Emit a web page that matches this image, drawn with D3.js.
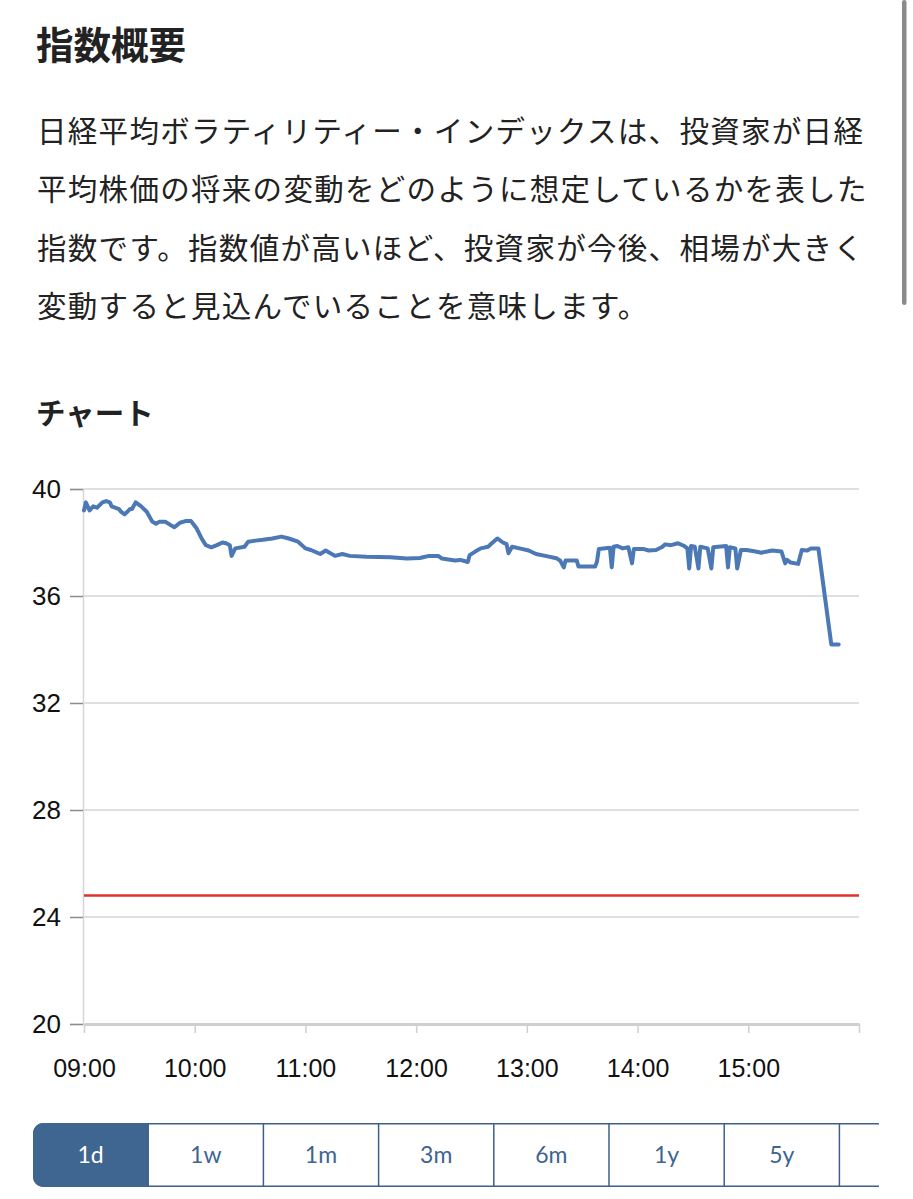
<!DOCTYPE html>
<html>
<head>
<meta charset="utf-8">
<script src="https://cdn.jsdelivr.net/npm/d3@7"></script>
<style>
  body { margin: 0; background: #fff; }
  svg { display: block; }
</style>
</head>
<body>
<svg class="page"></svg>
<script>

var title = '指数概要'
var paragraph = [
  '日経平均ボラティリティー・インデックスは、投資家が日経',
  '平均株価の将来の変動をどのように想定しているかを表した',
  '指数です。指数値が高いほど、投資家が今後、相場が大きく',
  '変動すると見込んでいることを意味します。'
]
var chartTitle = 'チャート'

var times = ['09:00','09:01','09:03','09:05','09:07','09:10','09:12','09:14','09:15','09:19',
  '09:20','09:22','09:25','09:26','09:28','09:31','09:34','09:37','09:39','09:41',
  '09:44','09:47','09:49','09:52','09:55','09:58','10:01','10:04','10:06','10:09',
  '10:12','10:15','10:17','10:19','10:20','10:22','10:27','10:29','10:33','10:37',
  '10:42','10:47','10:51','10:56','11:00','11:03','11:08','11:11','11:16','11:20',
  '11:24','11:33','11:46','11:55','12:02','12:07','12:12','12:14','12:21','12:24',
  '12:28','12:29','12:32','12:35','12:39','12:41','12:44','12:47','12:49','12:50',
  '12:52','12:56','13:01','13:05','13:10','13:16','13:18','13:20','13:21','13:27',
  '13:28','13:37','13:38','13:39','13:45','13:46','13:47','13:49','13:52','13:55',
  '13:57','13:58','14:03','14:06','14:10','14:13','14:15','14:18','14:22','14:25',
  '14:27','14:28','14:29','14:31','14:33','14:34','14:38','14:40','14:41','14:48',
  '14:49','14:50','14:53','14:54','14:56','14:59','15:04','15:07','15:13','15:18',
  '15:20','15:21','15:23','15:27','15:29','15:32','15:34','15:38','15:45','15:49']

var values = [39.2,39.5,39.2,39.35,39.3,39.5,39.55,39.5,39.35,39.25,
  39.15,39.05,39.25,39.25,39.5,39.35,39.15,38.78,38.7,38.78,
  38.78,38.65,38.57,38.74,38.8,38.8,38.53,38.12,37.9,37.82,
  37.9,38.0,37.97,37.9,37.5,37.78,37.84,38.03,38.07,38.1,
  38.15,38.22,38.15,38.03,37.78,37.72,37.57,37.7,37.5,37.57,
  37.5,37.47,37.45,37.4,37.42,37.5,37.5,37.4,37.33,37.35,
  37.27,37.53,37.66,37.78,37.84,37.97,38.15,38.0,37.94,37.6,
  37.84,37.78,37.7,37.57,37.5,37.41,37.33,37.07,37.33,37.33,
  37.1,37.1,37.28,37.76,37.8,37.07,37.84,37.87,37.78,37.82,
  37.22,37.76,37.76,37.7,37.72,37.82,37.93,37.9,37.97,37.88,
  37.78,37.03,37.87,37.84,37.03,37.84,37.78,37.03,37.82,37.87,
  37.07,37.82,37.78,37.03,37.72,37.72,37.66,37.62,37.7,37.66,
  37.22,37.35,37.25,37.2,37.72,37.7,37.78,37.78,34.19,34.19]

// red reference level
var refTimes = ['09:00', '16:00']
var refValues = [24.8, 24.8]

var yTicks = [20, 24, 28, 32, 36, 40]
var xTicks = ['09:00','10:00','11:00','12:00','13:00','14:00','15:00','16:00']
var xTickLabels = ['09:00','10:00','11:00','12:00','13:00','14:00','15:00','']
var ranges = ['1d','1w','1m','3m','6m','1y','5y','10y']

var W = 913, H = 1199
var jp = '"Noto Sans CJK JP", "Noto Sans", sans-serif'
var parseTime = d3.timeParse('%H:%M')

var svg = d3.select('.page')
    .attr('width', W)
    .attr('height', H)

// header text
svg.append('text')
    .attr('x', 36)
    .attr('y', 59)
    .style('font-family', jp)
    .style('font-size', '37.5px')
    .style('font-weight', 700)
    .style('fill', '#222')
    .text(title)

svg.selectAll('.para')
    .data(paragraph)
  .enter().append('text')
    .attr('class', 'para')
    .attr('x', 37)
    .attr('y', function(d, i) { return 142 + i * 58.3 })
    .style('font-family', jp)
    .style('font-size', '29.5px')
    .style('letter-spacing', '1.3px')
    .style('fill', '#222')
    .text(function(d) { return d })

svg.append('text')
    .attr('x', 36)
    .attr('y', 424)
    .style('font-family', jp)
    .style('font-size', '29.5px')
    .style('font-weight', 700)
    .style('fill', '#222')
    .text(chartTitle)

// scrollbar
svg.append('rect')
    .attr('x', 902)
    .attr('y', 0)
    .attr('width', 4.5)
    .attr('height', 305)
    .attr('rx', 2.2)
    .style('fill', '#8a8a8a')

// chart
var x = d3.scaleTime()
    .domain([parseTime('09:00'), parseTime('16:00')])
    .range([84, 859])

var y = d3.scaleLinear()
    .domain([20, 40])
    .range([1024, 489])

var chart = svg.append('g')

chart.append('g')
    .attr('class', 'grid')
  .selectAll('line')
    .data(yTicks.slice(1))
  .enter().append('line')
    .attr('x1', 83)
    .attr('x2', 859)
    .attr('y1', function(d) { return y(d) })
    .attr('y2', function(d) { return y(d) })
    .style('stroke', '#d6d6d6')
    .style('stroke-width', 1.5)

var yAxis = chart.append('g')
    .attr('transform', 'translate(83,0)')
    .call(d3.axisLeft(y).tickValues(yTicks).tickSize(13).tickPadding(9))

yAxis.select('.domain').style('stroke', '#d6d6d6').style('stroke-width', 1.5)
yAxis.selectAll('.tick line').style('stroke', '#8c8c8c').style('stroke-width', 1.5)
yAxis.selectAll('.tick text')
    .style('font-family', '"Liberation Sans", Arial, sans-serif')
    .style('font-size', '26px')
    .style('fill', '#111')

var xAxis = chart.append('g')
    .attr('transform', 'translate(0,1024)')
    .call(d3.axisBottom(x)
      .tickValues(xTicks.map(parseTime))
      .tickSize(9)
      .tickSizeOuter(0)
      .tickFormat(function(d, i) { return xTickLabels[i] }))

xAxis.select('.domain').style('stroke', '#cfcfcf').style('stroke-width', 3)
xAxis.selectAll('.tick line').style('stroke', '#cfcfcf').style('stroke-width', 1.5)
xAxis.selectAll('.tick text')
    .attr('y', 53)
    .attr('dy', 0)
    .style('font-family', '"Liberation Sans", Arial, sans-serif')
    .style('font-size', '25px')
    .style('fill', '#111')

var line = d3.line()
    .x(function(d) { return x(parseTime(d[0])) })
    .y(function(d) { return y(d[1]) })

chart.append('path')
    .datum(d3.zip(refTimes, refValues))
    .attr('d', line)
    .style('fill', 'none')
    .style('stroke', '#e2302a')
    .style('stroke-width', 2.5)

chart.append('path')
    .datum(d3.zip(times, values))
    .attr('d', line)
    .style('fill', 'none')
    .style('stroke', '#4c78b6')
    .style('stroke-width', 4)
    .style('stroke-linejoin', 'round')
    .style('stroke-linecap', 'round')

// range buttons, the row scrolls off the right edge
var bx = 33, by = 1123, bw = 115.2, bh = 64, clipRight = 879

svg.append('clipPath')
    .attr('id', 'btnclip')
  .append('rect')
    .attr('x', 0)
    .attr('y', 0)
    .attr('width', clipRight)
    .attr('height', H)

var buttons = svg.append('g')
    .attr('clip-path', 'url(#btnclip)')

buttons.append('rect')
    .attr('x', bx + 0.75)
    .attr('y', by + 0.75)
    .attr('width', bw * ranges.length)
    .attr('height', bh - 1.5)
    .attr('rx', 10)
    .style('fill', '#fff')
    .style('stroke', '#3d5f8a')
    .style('stroke-width', 1.5)

// active button with rounded left side
buttons.append('path')
    .attr('d', 'M' + (bx + bw) + ',' + by + 'H' + (bx + 10) +
      'A10,10 0 0 0 ' + bx + ',' + (by + 10) + 'V' + (by + bh - 10) +
      'A10,10 0 0 0 ' + (bx + 10) + ',' + (by + bh) + 'H' + (bx + bw) + 'Z')
    .style('fill', '#3f6690')

buttons.selectAll('.sep')
    .data(ranges.slice(1))
  .enter().append('line')
    .attr('class', 'sep')
    .attr('x1', function(d, i) { return bx + bw * (i + 1) })
    .attr('x2', function(d, i) { return bx + bw * (i + 1) })
    .attr('y1', by)
    .attr('y2', by + bh)
    .style('stroke', '#3d5f8a')
    .style('stroke-width', 1.5)

buttons.selectAll('.lbl')
    .data(ranges)
  .enter().append('text')
    .attr('class', 'lbl')
    .attr('x', function(d, i) { return bx + bw * i + bw / 2 })
    .attr('y', by + bh / 2 + 8)
    .attr('text-anchor', 'middle')
    .style('font-family', 'Lato, "Open Sans", sans-serif')
    .style('font-size', '23px')
    .style('fill', function(d, i) { return i === 0 ? '#fff' : '#3d6590' })
    .text(function(d) { return d })

</script>
</body>
</html>
